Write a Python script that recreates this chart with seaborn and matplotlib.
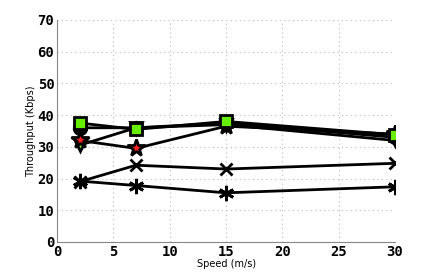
import matplotlib
matplotlib.use("Agg")
import matplotlib.pyplot as plt
import seaborn as sns
import pandas as pd

speed = [2, 7, 15, 30]
s_square = [37.5, 35.5, 38.0, 33.8]
s_circle = [36.0, 36.0, 37.5, 33.0]
s_star = [32.0, 29.5, 36.5, 34.0]
s_tri = [30.5, 36.0, 37.0, 32.0]
s_x = [19.0, 24.2, 23.0, 24.8]
s_ast = [19.2, 17.8, 15.5, 17.4]

series = [
    ("circle", s_circle, "o", "#111111", 9),
    ("tri", s_tri, "v", "#66ee00", 9),
    ("star", s_star, "*", "#ff2020", 13),
    ("square", s_square, "s", "#66ee00", 9),
    ("x", s_x, "x", "black", 9),
    ("ast", s_ast, (6, 2, 0), "black", 11),
]

sns.set_style("white")
fig = plt.figure(figsize=(4.36, 2.73), dpi=100)
ax = fig.add_axes([0.131, 0.1136, 0.775, 0.8134])

for name, vals, mk, fc, ms in series:
    df = pd.DataFrame({"speed": speed, "val": vals})
    sns.lineplot(data=df, x="speed", y="val", ax=ax, color="black", lw=2,
                 marker=mk, markersize=ms, markerfacecolor=fc,
                 markeredgecolor="black", markeredgewidth=2)

ax.set_xlim(0, 30)
ax.set_ylim(0, 70)
ax.set_xticks(range(0, 31, 5))
ax.set_yticks(range(0, 71, 10))
ax.grid(True, linestyle=(0, (1, 3)), color="#bbbbbb", lw=0.8)
for s in ["top", "right"]:
    ax.spines[s].set_visible(False)
for s in ["left", "bottom"]:
    ax.spines[s].set_color("#888888")
    ax.spines[s].set_linewidth(0.8)
ax.tick_params(direction="in", length=3, color="#888888", labelsize=10, pad=2,
               labelcolor="black")
for lab in ax.get_xticklabels() + ax.get_yticklabels():
    lab.set_fontweight("bold")
    lab.set_family("DejaVu Sans Mono")
ax.set_xlabel("Speed (m/s)", fontsize=7, labelpad=0, color="black")
ax.set_ylabel("Throughput (Kbps)", fontsize=7, labelpad=1, color="black")
fig.savefig("out.png", dpi=100)
